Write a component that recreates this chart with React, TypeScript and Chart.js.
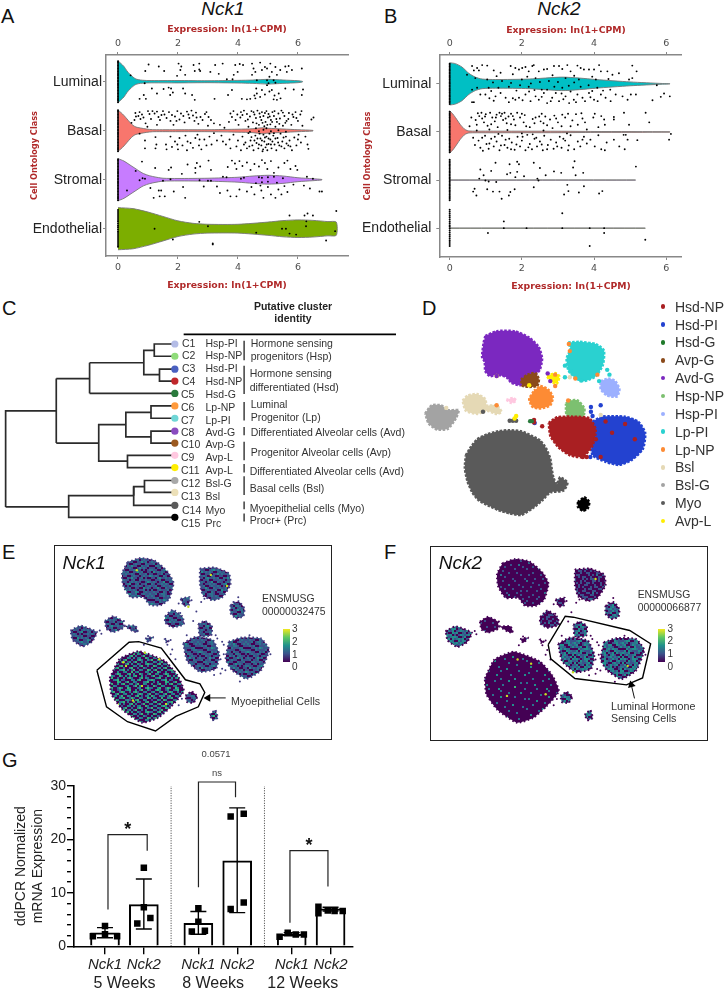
import React, { useEffect, useRef } from "react";
import { Chart, registerables } from "chart.js";

Chart.register(...registerables);

const SANS = '"Liberation Sans", Arial, sans-serif';
const DEJA = '"DejaVu Sans", sans-serif';
const RED = "#b02a2a";

// ---------- Panels A & B: violins ----------
const violinClasses = ["Luminal", "Basal", "Stromal", "Endothelial"];
const violinColors = ["#00BFC4", "#F8766D", "#C77CFF", "#7CAE00"];
const expressionTicks = [0, 2, 4, 6];

const nck1Luminal = [[0,.43],[.1,.37],[.2,.31],[.3,.22],[.4,.15],[.5,.095],[.6,.054],[.75,.034],[1,.024],[2,.024],[3,.02],[4,.027],[4.5,.034],[5,.048],[5.5,.034],[6,.02],[6.15,.007]];
const nck1Basal = [[0,.42],[.1,.37],[.2,.31],[.3,.24],[.4,.17],[.5,.11],[.6,.075],[.8,.05],[1,.03],[1.2,.02],[2,.02],[3,.02],[4,.03],[4.5,.04],[4.8,.06],[5,.05],[5.5,.035],[6,.02],[6.5,.007]];
const nck1Stromal = [[0,.43],[.2,.38],[.4,.3],[.6,.22],[.8,.14],[1,.09],[1.2,.06],[1.5,.03],[2,.025],[3,.03],[4,.05],[4.5,.075],[5,.09],[5.5,.075],[6,.04],[6.5,.02],[6.8,.005]];
const nck1Endothelial = [[0,.43],[.5,.41],[1,.34],[1.5,.25],[2,.16],[2.5,.11],[3,.09],[4,.09],[5,.135],[5.5,.165],[6,.18],[6.5,.17],[7,.145],[7.28,.135]];
const nck2Luminal = [[0,.44],[.16,.42],[.34,.35],[.53,.22],[.71,.14],[.9,.1],[1.27,.09],[2.2,.1],[3.1,.14],[3.6,.12],[4.05,.09],[5,.04],[5.9,.007],[6.1,.002]];
const nck2Basal = [[0,.44],[.08,.38],[.16,.3],[.25,.2],[.34,.11],[.44,.045],[.53,.02],[1,.017],[3,.015],[4,.01],[6.1,.004]];
const nck2Stromal = [[0,.002],[5.15,.002]];
const nck2Endothelial = [[0,.002],[5.42,.002]];

const zeroDense = [-.42,-.39,-.36,-.33,-.3,-.27,-.24,-.21,-.18,-.15,-.12,-.09,-.06,-.03,0,.03,.06,.09,.12,.15,.18,.21,.24,.27,.3,.33,.36,.39,.42];
const zeroSparse = [-.38,-.34,-.3,-.26,-.22,-.18,-.14,-.1,-.06,-.03,.01,.05,.09,.13,.17,.21,.25,.29,.33,.37];

const nck1LuminalDots = [[1.02,-.35],[.91,-.22],[1.36,-.31],[1.54,-.22],[2.02,-.37],[2.11,-.31],[2.08,-.24],[1.97,-.12],[2.52,-.34],[2.71,-.37],[2.71,-.25],[2.74,-.22],[2.56,-.22],[2.24,-.14],[3.08,-.2],[3.24,-.34],[3.49,-.37],[3.36,-.16],[3.63,-.05],[3.82,-.05],[3.91,-.34],[4.06,-.36],[4.17,-.34],[3.99,-.2],[3.86,-.14],[4.47,-.37],[4.52,-.27],[4.58,-.2],[4.47,-.14],[4.74,-.39],[4.8,-.24],[4.97,-.27],[5.08,-.37],[5.13,-.2],[5.3,-.14],[5.41,-.24],[5.58,-.31],[5.69,-.32],[5.63,-.2],[5.8,-.24],[6.13,-.27],[5.19,-.03],[4.97,-.03],[4.63,-.03],[.42,-.13],[.89,.03],[1.13,.14],[.86,.27],[.72,.35],[.93,.35],[1.3,.24],[1.52,.15],[1.69,.12],[1.77,.14],[1.83,.22],[1.74,.27],[2.17,.14],[2.24,.24],[2.47,.27],[2.56,.37],[3.22,.35],[3.67,.27],[3.8,.17],[4.13,.35],[4.3,.36],[4.41,.35],[4.58,.34],[4.63,.24],[4.61,.14],[4.8,.17],[4.74,.31],[4.97,.07],[5.13,.17],[5.19,.36],[5.3,.37],[5.36,.24],[5.58,.14],[5.86,.16],[6.13,.27],[6.17,.16],[5.02,.03],[5.25,.02],[4.9,-.3],[5.05,-.1],[5.25,-.3],[4.55,.28],[4.9,.26],[5.05,.2],[5.22,.28],[5.42,.34]];
const nck1BasalDots = [[.58,-.36],[.6,-.29],[.55,-.22],[.45,-.16],[.68,-.3],[.72,-.38],[.75,-.24],[.8,-.33],[.85,-.27],[.92,-.15],[1,-.4],[1.05,-.34],[1.1,-.24],[.98,-.08],[1.22,-.35],[1.3,-.39],[1.35,-.28],[1.4,-.22],[1.3,-.12],[1.5,-.4],[1.55,-.33],[1.62,-.26],[1.7,-.38],[1.75,-.2],[1.8,-.32],[1.85,-.12],[1.9,-.29],[1.98,-.4],[2.05,-.23],[2.1,-.35],[2.18,-.3],[2.22,-.17],[2.3,-.39],[2.38,-.26],[2.45,-.41],[2.5,-.31],[2.55,-.2],[2.6,-.37],[2.68,-.14],[2.75,-.28],[2.82,-.22],[2.9,-.34],[3,-.1],[3.1,-.22],[3.2,-.15],[3.4,-.12],[3.55,-.06],[3.7,-.18],[3.75,-.35],[3.8,-.28],[3.85,-.4],[3.92,-.22],[3.98,-.33],[4.02,-.12],[4.08,-.27],[4.1,-.38],[4.2,-.41],[4.25,-.2],[4.3,-.34],[4.35,-.08],[4.4,-.29],[4.45,-.4],[4.5,-.17],[4.55,-.33],[4.6,-.26],[4.65,-.41],[4.7,-.12],[4.72,-.35],[4.78,-.22],[4.8,-.38],[4.85,-.3],[4.88,-.09],[4.92,-.18],[4.95,-.4],[5,-.27],[5.02,-.34],[5.08,-.13],[5.1,-.22],[5.15,-.38],[5.2,-.3],[5.25,-.08],[5.3,-.18],[5.35,-.35],[5.4,-.25],[5.45,-.41],[5.5,-.1],[5.55,-.3],[5.62,-.2],[5.7,-.36],[5.78,-.12],[5.85,-.28],[5.92,-.38],[6,-.2],[6.08,-.33],[6.12,-.4],[6.15,-.1],[6.45,-.23],[6.52,-.27],[.72,.06],[.9,.2],[.9,.36],[1.25,.13],[1.28,.28],[1.25,.36],[1.6,.28],[1.62,.38],[1.75,.12],[1.8,.33],[1.9,.22],[2,.38],[2.05,.15],[2.15,.3],[2.25,.1],[2.3,.4],[2.42,.25],[2.5,.35],[2.58,.15],[2.65,.08],[2.7,.3],[2.78,.38],[2.88,.18],[2.95,.3],[3.05,.12],[3.2,.05],[3.3,.2],[3.45,.1],[3.6,.28],[3.72,.18],[3.75,.36],[3.85,.08],[3.95,.32],[4,.2],[4.1,.4],[4.15,.12],[4.2,.28],[4.3,.36],[4.35,.05],[4.42,.2],[4.48,.3],[4.52,.4],[4.58,.1],[4.62,.25],[4.68,.36],[4.72,.06],[4.75,.16],[4.78,.3],[4.82,.42],[4.85,.08],[4.88,.22],[4.92,.34],[4.95,.12],[4.98,.4],[5.02,.27],[5.05,.06],[5.08,.18],[5.12,.36],[5.18,.1],[5.22,.28],[5.28,.4],[5.32,.15],[5.38,.3],[5.42,.06],[5.48,.22],[5.55,.36],[5.6,.12],[5.68,.3],[5.72,.2],[5.8,.4],[5.88,.14],[5.95,.3],[6.02,.08],[6.1,.24],[6.25,.12],[6.32,.28],[6.35,.37],[4.7,.01],[4.85,-.02],[5.1,.01],[5.35,-.01],[4.4,.02],[5.6,.02],[4.6,-.05],[4.95,-.05],[5.2,.05],[1.15,-.4],[1.45,-.32],[1.95,-.2],[2.35,-.33],[2.62,-.27],[2.95,-.38],[3.02,-.28],[4.15,-.32],[4.33,-.23],[4.52,-.38],[4.62,-.15],[4.74,-.28],[4.82,-.16],[4.9,-.36],[4.98,-.12],[5.06,-.29],[5.14,-.18],[5.22,-.4],[5.28,-.24],[5.38,-.14],[5.5,-.37],[5.58,-.16],[5.68,-.24],[5.82,-.33],[5.95,-.26],[4.25,.24],[4.38,.32],[4.45,.13],[4.55,.2],[4.65,.16],[4.7,.28],[4.8,.2],[4.84,.38],[4.9,.14],[4.96,.28],[5.02,.16],[5.1,.28],[5.15,.22],[5.25,.16],[5.34,.24],[5.45,.32],[5.52,.14],[5.62,.26],[5.75,.32],[6,.18],[1.98,.28],[2.32,.22],[2.72,.18],[3.12,.28],[3.5,.22]];
const nck1StromalDots = [[.8,-.37],[.59,-.18],[1.24,-.24],[1.69,-.2],[1.77,-.25],[2.13,-.12],[2.32,-.31],[2.63,-.34],[2.58,-.24],[2.74,-.27],[3.02,-.39],[2.58,-.14],[3.1,-.2],[3.66,-.26],[3.8,-.39],[3.9,-.33],[3.95,-.22],[4.05,-.38],[4.15,-.28],[4.3,-.35],[4.42,-.2],[4.55,-.32],[4.7,-.27],[4.8,-.4],[4.9,-.34],[4.98,-.22],[5.1,-.38],[5.2,-.14],[5.35,-.25],[5.55,-.34],[5.65,-.39],[5.75,-.22],[5.92,-.28],[5.98,-.2],[3.5,-.06],[3.62,-.05],[4.2,-.04],[4.1,-.02],[4.7,-.05],[4.8,-.04],[5,-.05],[5.2,-.06],[5.5,-.03],[6.3,-.06],[6.5,-.02],[.72,.01],[.82,-.03],[.3,.22],[.9,-.02],[1.5,.02],[1.75,-.01],[2.72,.01],[3,.02],[3.1,.02],[1.08,.17],[1.19,.37],[1.36,.22],[1.44,.22],[1.39,.34],[1.56,.34],[1.86,.24],[2.17,.15],[2.24,.37],[2.86,.14],[3.3,.14],[3.4,.27],[3.75,.34],[3.65,.22],[3.95,.34],[4.05,.2],[4.3,.24],[4.45,.15],[4.55,.3],[4.75,.12],[4.78,.22],[4.85,.37],[5,.15],[5.1,.3],[5.25,.37],[5.35,.2],[5.45,.3],[5.55,.13],[5.65,.25],[5.85,.1],[6.2,.12],[6.4,.18],[6.72,.24],[6.8,.24],[4.8,.05],[5,.04],[5.3,.06],[4.6,.07]];
const nck1EndoDots = [[1.22,0],[1.83,.22],[2.71,-.14],[3,-.05],[3.16,.3],[3.16,.32],[4.61,.08],[5.72,-.27],[5.47,0],[5.6,0],[5.72,.1],[5.94,.12],[6.22,-.27],[6.32,-.31],[6.5,-.27],[6.28,-.15],[6.27,-.05],[7.28,-.36],[7.24,.05],[6.94,.24]];
const nck2LuminalDots = [[.62,-.37],[.76,-.33],[.9,-.39],[1.04,-.38],[.67,-.28],[.81,-.28],[.48,-.19],[.71,-.12],[1.22,-.28],[1.41,-.23],[1.69,-.37],[1.82,-.33],[1.92,-.3],[2.01,-.33],[2.1,-.35],[2.29,-.37],[2.33,-.39],[2.19,-.26],[2.47,-.26],[2.61,-.3],[2.7,-.31],[2.89,-.37],[3.03,-.37],[3.12,-.31],[3.26,-.39],[3.35,-.26],[3.54,-.38],[3.63,-.33],[3.72,-.3],[3.86,-.3],[4,-.3],[4.14,-.39],[4.19,-.26],[4.37,-.26],[4.51,-.19],[4.69,-.22],[5.06,-.38],[5.18,-.26],[5.06,-.12],[4.97,-.09],[1.04,-.09],[1.45,-.06],[2,-.09],[2.38,-.12],[2.75,-.06],[3.21,-.12],[3.58,-.09],[4.05,-.09],[.76,.08],[.62,.12],[1.08,.08],[1.64,.06],[2.19,.06],[2.7,.12],[3.12,.08],[3.63,.06],[4.09,.08],[.62,.38],[.67,.38],[1.22,.35],[1.27,.26],[.99,.22],[1.41,.19],[1.55,.29],[1.64,.38],[1.82,.33],[1.92,.29],[2.1,.22],[2.24,.36],[2.38,.26],[2.47,.33],[2.61,.19],[2.7,.4],[2.84,.29],[2.94,.19],[3.03,.36],[3.21,.26],[3.31,.4],[3.44,.33],[3.54,.22],[3.68,.29],[3.86,.19],[4,.33],[4.19,.22],[4.32,.29],[4.46,.36],[4.6,.22],[4.79,.26],[4.93,.33],[5.02,.22],[5.16,.22],[5.62,.34],[5.85,.27],[5.94,.2],[6.1,.26],[5.74,.03],[1.3,-.16],[1.75,-.2],[2.15,-.15],[2.85,-.18],[3.45,-.17],[3.95,-.15],[4.4,-.1],[1.15,.15],[1.85,.14],[2.35,.13],[3.35,.16],[3.95,.15],[4.45,.12],[2.55,.27],[3.15,.32],[3.75,.36],[2.55,.12],[2.9,.06],[3.3,.04],[1.35,.08],[1.95,.03],[2.5,-.04],[3,-.04],[3.45,-.03],[3.85,.03],[1.2,-.03],[1.7,-.02],[2.25,-.01],[.85,.22],[1.1,.3],[1.75,.3],[2.02,.34],[2.2,.16],[2.8,.36],[3.1,.2],[3.5,.38],[3.9,.28],[4.1,.36],[4.25,.14]];
const nck2BasalDots = [[.55,-.12],[.6,-.3],[.72,-.25],[.78,-.39],[.82,-.33],[.88,-.4],[.9,-.28],[.95,-.2],[1,-.37],[1.05,-.13],[1.12,-.4],[1.18,-.3],[1.25,-.22],[1.3,-.36],[1.33,-.1],[1.38,-.4],[1.42,-.33],[1.48,-.25],[1.52,-.4],[1.58,-.18],[1.63,-.32],[1.7,-.38],[1.78,-.26],[1.82,-.14],[1.87,-.4],[1.95,-.3],[2.05,-.2],[2.08,-.35],[2.22,-.1],[2.3,-.27],[2.35,-.18],[2.38,-.3],[2.52,-.22],[2.55,-.38],[2.65,-.32],[2.7,-.14],[2.78,-.26],[2.85,-.08],[2.9,-.34],[3,-.2],[3.1,-.12],[3.2,-.3],[3.28,-.38],[3.4,-.24],[3.5,-.37],[3.55,-.15],[3.65,-.39],[3.68,-.28],[3.75,-.2],[3.98,-.3],[4.02,-.38],[4.12,-.1],[4.2,-.33],[4.28,-.26],[4.3,-.15],[4.55,-.31],[4.55,-.26],[4.83,-.4],[4.97,-.15],[5.43,-.4],[5.53,-.2],[.65,.12],[.7,.27],[.8,.18],[.85,.33],[.92,.39],[.98,.08],[1.02,.25],[1.08,.35],[1.15,.14],[1.22,.3],[1.3,.2],[1.38,.38],[1.45,.08],[1.52,.27],[1.6,.33],[1.65,.14],[1.72,.22],[1.8,.37],[1.88,.1],[1.95,.3],[2,.18],[2.1,.38],[2.15,.06],[2.22,.25],[2.28,.36],[2.35,.14],[2.42,.3],[2.5,.2],[2.58,.38],[2.62,.08],[2.72,.27],[2.8,.16],[2.88,.35],[2.95,.22],[3.05,.1],[3.1,.33],[3.2,.18],[3.3,.28],[3.35,.07],[3.45,.36],[3.55,.2],[3.62,.3],[3.72,.1],[3.8,.24],[3.9,.16],[4.02,.3],[4.12,.07],[4.2,.36],[4.3,.38],[4.35,.22],[4.55,.16],[4.7,.3],[4.82,.06],[4.88,.06],[4.93,.16],[4.85,.36],[5.2,.17],[6.08,.16],[6.13,.04],[1.1,-.05],[1.6,-.04],[2,.03],[2.6,-.03],[3.25,.03],[3.8,-.05],[1.35,.04],[.75,-.03],[2.3,.05],[.75,-.15],[.98,-.32],[1.15,-.16],[1.28,-.3],[1.45,-.38],[1.55,-.28],[1.7,-.16],[1.75,-.33],[2,-.38],[2.12,-.12],[2.48,-.32],[2.6,-.18],[2.95,-.28],[3.12,-.36],[3.35,-.12],[.9,.12],[1.1,.24],[1.25,.1],[1.42,.28],[1.55,.16],[1.7,.36],[1.85,.26],[2.02,.1],[2.18,.32],[2.4,.12],[2.55,.26],[2.7,.36],[2.98,.3],[3.15,.14],[3.28,.38],[3.68,.16]];
const nck2StromalDots = [[1.27,-.36],[.85,-.22],[.94,-.1],[1.15,-.19],[.82,-.03],[.99,.01],[1.08,.03],[1.29,.04],[.69,.18],[.65,.24],[.74,.32],[1.04,.19],[1.2,.24],[1.38,.24],[1.44,.39],[1.8,.19],[1.68,.25],[1.64,.32],[1.66,-.33],[1.87,-.38],[1.92,-.33],[2.33,-.36],[2.5,-.25],[1.59,-.12],[1.68,-.15],[1.87,-.17],[1.82,-.06],[2.06,-.08],[2.43,-.03],[2.46,.01],[2.33,.15],[2.66,-.1],[2.89,-.18],[3.09,-.15],[3.46,-.39],[3.42,-.26],[3.49,-.1],[3.7,-.15],[3.26,.1],[3.17,.3],[3.29,.23],[3.58,.26],[3.72,.13],[4.14,.28],[4.23,.23],[5.16,-.28]];
const nck2EndoDots = [[3.12,-.31],[1.5,-.14],[1.06,.1],[1.5,0],[2.13,0],[3.12,0],[3.88,0],[4.28,0],[4.28,.1],[5.42,.24],[3.88,.37]];

// ---------- Panel C: dendrogram ----------
const dendroBranches = [
  [[160,262],[160,462]],[[5,660],[5,362],[160,362]],
  [[262,308],[262,213]],[[160,262],[262,262]],[[262,213],[428,213]],[[262,308],[515,308]],
  [[476,250],[428,250],[428,175],[460,175]],[[515,155],[460,155],[460,193],[515,193]],
  [[515,233],[476,233],[476,270],[515,270]],
  [[160,462],[290,462]],[[373,405],[290,405],[290,518],[378,518]],
  [[450,367],[373,367],[373,443],[450,443]],[[515,347],[450,347],[450,385],[515,385]],
  [[515,425],[450,425],[450,462],[515,462]],[[515,500],[378,500],[378,538],[515,538]],
  [[5,660],[198,660]],[[397,625],[198,625],[198,692],[515,692]],
  [[430,597],[397,597],[397,655],[515,655]],[[397,625],[397,597]],[[515,578],[430,578],[430,615],[515,615]],
];
const clusterIds = ["C1","C2","C3","C4","C5","C6","C7","C8","C10","C9","C11","C12","C13","C14","C15"];
const clusterNames = ["Hsp-PI","Hsp-NP","Hsd-PI","Hsd-NP","Hsd-G","Lp-NP","Lp-PI","Avd-G","Avp-G","Avp-L","Avp-L","Bsl-G","Bsl","Myo","Prc"];
const clusterColors = ["#b4bce6","#8fdc7a","#4a60c0","#c0282c","#2a7a3c","#ff9a3c","#6fd6d6","#8a4cc0","#9c5a20","#ffc8e0","#ffee00","#a8a8a8","#ece0b8","#5a5a5a","#000000"];
const tipRows = [155,193,233,270,308,347,385,425,462,500,538,578,615,655,692];
const labelRows = [160,195,235,273,313,352,390,427,463,502,541,578,618,661,700];
const identityBars = [[145,205],[222,310],[335,392],[412,438],[458,515],[527,553],[565,623],[643,667],[680,705]];
const identityText = [[752,160,"Hormone sensing"],[752,198,"progenitors (Hsp)"],[749,250,"Hormone sensing"],[749,290,"differentiated (Hsd)"],[752,341,"Luminal"],[752,380,"Progenitor (Lp)"],[752,427,"Differentiated Alveolar cells (Avd)"],[752,485,"Progenitor Alveolar cells (Avp)"],[749,543,"Differentiated Alveolar cells (Avd)"],[749,595,"Basal cells (Bsl)"],[749,653,"Myoepithelial cells (Myo)"],[749,691,"Procr+ (Prc)"]];

// ---------- Panel D: embedding ----------
const tsneClusters = [
  { c: "#5a5a5a", o: [[190,500],[205,475],[225,450],[255,435],[290,425],[325,422],[360,425],[395,440],[420,455],[438,480],[450,510],[455,545],[460,570],[470,590],[480,568],[503,585],[490,610],[450,615],[425,640],[395,665],[360,685],[325,680],[290,670],[258,655],[230,640],[210,615],[195,580],[187,540]] },
  { c: "#a3a3a3", o: [[65,370],[85,345],[115,345],[135,360],[168,360],[160,385],[135,418],[100,420],[75,400]] },
  { c: "#e5d9b5", o: [[180,330],[195,315],[225,310],[250,325],[255,345],[285,345],[300,365],[285,372],[255,362],[225,372],[190,362]] },
  { c: "#7b28c0", o: [[250,130],[285,115],[340,115],[385,135],[415,165],[425,200],[418,235],[400,255],[385,275],[355,283],[330,275],[315,258],[285,250],[265,255],[250,240],[248,210],[240,195],[245,150]] },
  { c: "#8b4a1a", o: [[360,265],[380,250],[405,245],[415,265],[410,285],[385,288],[365,285]] },
  { c: "#2ad1d0", o: [[505,150],[540,148],[590,155],[615,175],[612,220],[590,255],[555,270],[525,260],[505,235],[500,200],[512,170]] },
  { c: "#9cb0ff", o: [[605,270],[630,262],[650,270],[663,295],[655,318],[625,315],[605,295]] },
  { c: "#fd8b34", o: [[400,300],[420,285],[445,297],[458,320],[450,345],[420,355],[395,350],[385,325]] },
  { c: "#7cc070", o: [[498,340],[510,330],[535,330],[555,355],[550,385],[525,385],[500,375]] },
  { c: "#2342d0", o: [[580,395],[610,380],[680,380],[720,395],[742,430],[735,480],[700,515],[660,530],[620,520],[580,500],[575,450]] },
  { c: "#a91f22", o: [[445,400],[470,382],[520,380],[570,385],[590,420],[580,470],[550,505],[510,500],[475,475],[450,440]] },
  { c: "#000000", o: [[535,645],[555,630],[570,645],[565,665],[550,672],[535,660]] },
  { c: "#ffee00", o: [[440,255],[465,245],[478,255],[470,278],[450,270]] },
  { c: "#ffc8e0", o: [[315,328],[335,322],[345,330],[330,338]] },
];
const tsneSpecks = [
  ["#fd8b34",[[507,155],[510,177],[595,250],[527,262],[505,330],[285,345],[465,250],[465,285]]],
  ["#2ad1d0",[[495,222],[495,258],[512,240],[545,268],[625,235],[632,250],[600,270]]],
  ["#7b28c0",[[442,246],[450,270],[285,254]]],
  ["#ffee00",[[285,254],[345,378],[340,386],[385,283]]],
  ["#5a5a5a",[[325,393],[335,393],[345,393],[243,365],[490,595]]],
  ["#2a7a3c",[[388,394],[393,394]]],
  ["#a91f22",[[400,390],[400,398],[425,410],[550,505],[562,505],[605,505],[640,430],[710,450],[620,395],[680,403],[590,450]]],
  ["#2342d0",[[402,400],[575,350],[575,365],[580,378],[573,505],[590,490],[605,345]]],
  ["#e5d9b5",[[130,353],[290,365],[510,258],[605,375]]],
];
const tsneLegendNames = ["Hsd-NP","Hsd-PI","Hsd-G","Avp-G","Avd-G","Hsp-NP","Hsp-PI","Lp-PI","Lp-NP","Bsl","Bsl-G","Myo","Avp-L"];
const tsneLegendColors = ["#a91f22","#2342d0","#1f7a2a","#8b4a1a","#7b28c0","#7cc070","#9cb0ff","#2ad1d0","#fd8b34","#e5d9b5","#a3a3a3","#5a5a5a","#ffee00"];

// ---------- Panels E & F: expression embeddings ----------
const embedClusters = [
  { id:"avd", o:[[211,40],[251,27],[296,35],[336,70],[354,105],[341,155],[316,175],[281,175],[261,150],[221,150],[198,115],[194,75]] },
  { id:"lp", o:[[436,60],[481,57],[526,75],[531,110],[506,150],[476,160],[446,145],[436,110]] },
  { id:"hsp", o:[[531,175],[556,163],[574,185],[571,210],[548,217],[531,200]] },
  { id:"t1", o:[[376,155],[404,150],[401,175],[386,177]] },
  { id:"lpnp", o:[[328,210],[351,190],[381,210],[386,235],[351,245],[328,230]] },
  { id:"bsl", o:[[141,225],[166,210],[196,225],[198,247],[166,260],[146,250]] },
  { id:"bslg", o:[[34,255],[66,240],[116,260],[101,290],[71,305],[41,285]] },
  { id:"t2", o:[[201,240],[236,240],[243,260],[228,257]] },
  { id:"t3", o:[[266,280],[291,275],[276,292]] },
  { id:"t4", o:[[326,280],[341,290],[331,292]] },
  { id:"hspnp", o:[[431,235],[451,225],[473,240],[471,270],[436,273]] },
  { id:"hsdnp", o:[[384,295],[421,275],[476,285],[496,330],[486,375],[436,385],[396,350]] },
  { id:"hsdpi", o:[[526,290],[566,277],[626,280],[651,315],[626,380],[581,407],[536,380],[516,345]] },
  { id:"myo", o:[[156,405],[186,345],[246,320],[326,350],[366,395],[386,445],[346,495],[306,530],[256,545],[196,505],[161,455]] },
  { id:"myo2", o:[[391,460],[411,447],[428,463],[416,482],[396,480]] },
  { id:"prc", o:[[466,520],[484,505],[491,530],[476,537]] },
];
const lassoE = [[116,380],[216,292],[246,290],[316,310],[346,350],[391,410],[436,423],[451,450],[431,495],[361,525],[298,571],[211,542],[146,495],[116,380]];
const lassoF = [[353,298],[406,208],[431,211],[606,253],[671,295],[646,403],[596,425],[436,405],[361,343],[353,298]];
const arrowE = [[516,467],[461,467]];
const arrowF = [[621,468],[611,425]];
const embedStray = [[200,225],[230,250],[240,255],[262,300],[275,272],[345,285],[425,195],[440,165],[450,155],[555,150],[540,165],[375,200],[415,225],[395,270],[485,270],[505,290],[510,330],[500,345],[505,375],[500,390],[515,380],[510,300],[490,280],[125,255],[130,265],[370,170],[410,160],[360,345],[345,330],[590,270],[640,330],[655,330],[480,395],[560,415],[370,490],[380,470],[335,300],[350,315]];
const embedSpark = { E:[[198,355],[265,325],[310,345],[228,475],[400,180],[520,115],[240,65],[470,80]], F:[[258,345],[345,455],[430,385],[600,365],[500,90],[225,460],[300,358]] };

const tileBlue = ["112012210011231120012112","210011212100112213100121","121200111221001112210011","001121321110210021112200","110021111200121111001221","321100212011132102110112","012112100211201110221001","100211012113100212012110","211013120011212001131201","120112001221100121100211","002211210110213110021120","110120112001121001312101","211001231210011221101012","031212100121200113120011","100112011312112100211201","212100210011001211012113","110231121200213110120100","001120011121101200211211","121011300211012121100132","210112121001230012011200","112001211210101121210112","011310021121120011003121","200121112003121210112010","121100210112001132001211"];
const tileMyoE = ["003420013002340030240031","230034002430020341002300","003100240023003002430024","420032301400320034010230","032004003240014200320043","100320430002310034003200","034002002340200403200340","300240053020034020014002","023003420100320302300420","400320043024002003420031","032014000340130240020300","200340230002403003100342","043002003405000320240020","300230340020034002003100","024003002340201400320043","300420030023004023000320","003200143000340300420024","240032004203020340030100","002340020030342000240320","430002340210003203400023","020300043002400320002340","300240030340023014003200","042003200002300240350020","200340024300430002300342"];
const tileLow = ["000100000010000200000100","010000100000010000100000","000001000200000001000010","100000000001000100000000","000100010000000000010001","000000000100200000000000","001000100000000100100000","000000000010000000000100","020001000000100000000000","000000000100000010002000","000100000000010000000010","100000200000000000100000","000000001000100000000000","000100000000000100010000","010000010002000000000100","000000000000010000000000","000010001000000001000001","200000000000100000100000","000100000100000000000000","000000100000000200001000","001000000001000000000010","000000010000010001000000","100001000000000000000100","000000000200001000010000"];
const tileLow2 = ["010110001100010210010100","100011100010011001101001","001001012100100110010110","110100001011010100000101","000110110000210011010001","101000010120001000110010","011001100100011100100100","100100011012000100011001","020011000110100101000011","101000110100010010102000","000101001001110001010010","110010200011000110100101","001101001010010000110010","100100110001100101000100","011000010102001010010101","001011001000110101001000","100010101100100011000011","200101000110100100101000","010100110100010010010101","001001100010010200101010","101010001011001001000110","010001011000110010110000","110011000110001100100101","001000110201001010010010"];
const tileMid = ["312012230013231320012312","230013212300312213300321","121300311231003312210013","003123321130230023132200","130321113200123131003221","321300212013132302130312","013112300231201310231003","300213012313300212312130","231013320013212301131203","120312301221300321300231","302211230130213310023120","130120312003121301312301","213003231230013221301012","031232300123200313320013","300132013312132300231203","212300230013003213012313","130231321200213110320300","003120013123301200213231","123013300213012321300132","230112321003230012013200","312003213230101321230132","013310023123320013003123","200123112303123230132010","123300230132003132003211"];
const tileMyoF = ["000000000002000000000000","002000000000000200000300","000000020000000000000000","000000000003000000200000","020000000000000000000002","000003000000002000000000","000000000200000000000000","000200000000000003000000","000000000000020000000020","200000003000000000000000","000000200000000200000000","000000000000000000020000","003000000020000000000000","000000000000003000000000","000002000002000000002000","020000000000000000000000","000000000300000020000003","000000000000000000000000","000200000002000000300000","000000002000000300000000","200000000000000000000200","000030000000200000000000","000000000000000000400000","000002000030000000000002"];

const fillE = { myo:"myoE", prc:"myoE" };
const fillF = { hsdnp:"mid", hsdpi:"mid", hspnp:"mid", hsp:"mid", bslg:"mid", lp:"low2", lpnp:"low2", t1:"low2", myo:"myoF", myo2:"mid", prc:"mid" };

// ---------- Panel G: ddPCR ----------
const weeks = ["5 Weeks","8 Weeks","12 Weeks"];
const genes = ["Nck1","Nck2"];
const barValues = [2.5,7.8,4.3,16,2.25,7];
const errLow = [1.6,3.25,2.25,6.3,1.95,6.6];
const errHigh = [3.5,12.6,6.5,25.9,2.55,7.3];
const replicateValues = [[1.9,3.8,2.25,1.9],[14.7,7.3,4.25,5.3],[7.1,4.6,2.75,2.9],[24.3,24.8,7,8.2],[1.8,2.55,2.2,2.2],[7.4,6.2,6.7,6.6,6.6]];
const replicateSpread = [[-.13,0,0,.13],[0,0,-.07,.07],[0,0,-.07,.07],[-.07,.07,-.07,.07],[-.13,-.043,.043,.13],[-.13,-.13,-.03,.043,.13]];
const sigBrackets = [[[-.176,6.9],[-.176,20.9],[.244,20.9],[.244,17.9]],[[.793,11.06],[.793,30.75],[1.19,30.75],[1.19,27.9]],[[1.773,4.4],[1.773,17.9],[2.18,17.9],[2.18,11.2]]];
const separators = [.5,1.5];
const barCenters = [-.208,.208,.792,1.208,1.792,2.208];
const weekTickAt = [0,.95,1.91];
const ddpcrTicks = [0,2,4,6,8,10,12,14,16,18,20,22,24,26,28,30];

// ---------- helpers ----------
const close = (o: number[][]) => [...o, o[0]].map(([x, y]) => ({ x, y }));
const xy = (p: number[][]) => p.map(([x, y]) => ({ x, y }));
const baseOptions = (extra: any) => ({
  responsive: false, animation: false, events: [],
  plugins: { legend: { display: false }, tooltip: { enabled: false } },
  ...extra,
});
const hiddenScales = (w: number, h: number) => ({
  x: { type: "linear", display: false, min: 0, max: w },
  y: { type: "linear", display: false, min: 0, max: h, reverse: true },
});

const violinRow = (profile: number[][], row: number, color: string) => ({
  type: "scatter", showLine: true, pointRadius: 0, fill: "shape", tension: 0.25,
  backgroundColor: color, borderColor: "#777", borderWidth: 0.9,
  data: [...profile.map(([x, h]) => ({ x, y: row - h })), ...[...profile].reverse().map(([x, h]) => ({ x, y: row + h }))],
});

function violinConfig(p: any) {
  const dots = p.dots.flatMap((d: number[][], row: number) => d.map(([x, j]) => ({ x, y: row + j })));
  const zero = p.zeros.flatMap((z: number[], row: number) => z.map((j) => ({ x: 0, y: row + j })));
  const xAxis = (position: string, titled: boolean, h: number, titlePad: any) => ({
    type: "linear", position, min: p.xMin, max: p.xMax,
    afterBuildTicks: (s: any) => { s.ticks = expressionTicks.map((value) => ({ value })); },
    afterFit: (s: any) => { s.height = h; },
    grid: { drawOnChartArea: false, tickLength: 3, color: "#888" },
    border: { color: "#888", width: 1.5 },
    ticks: { color: "#4d4d4d", padding: 3, maxRotation: 0, autoSkip: false, font: { family: DEJA, size: 9.5 }, callback: (v: number) => String(v) },
    title: { display: titled, text: "Expression: ln(1+CPM)", color: RED, padding: titlePad, font: { family: DEJA, size: 9.3, weight: "bold" } },
  });
  return {
    type: "scatter",
    data: {
      datasets: [
        { data: dots, pointRadius: 0.95, pointBackgroundColor: "#000", pointBorderWidth: 0 },
        { data: zero, pointRadius: 1, pointBackgroundColor: "#000", pointBorderWidth: 0 },
        ...p.profiles.map((pr: number[][], i: number) => violinRow(pr, i, violinColors[i])),
      ],
    },
    options: baseOptions({
      layout: { padding: { right: p.right, left: 0, top: 0, bottom: 0 } },
      scales: {
        x: xAxis("bottom", p.xTitles, p.bottomH, { bottom: 4 }),
        xTop: xAxis("top", p.xTitles, p.topH, { top: 9 }),
        y: {
          type: "linear", position: "left", reverse: true, min: p.yMin, max: p.yMax,
          afterBuildTicks: (s: any) => { s.ticks = [0, 1, 2, 3].map((value) => ({ value })); },
          afterFit: (s: any) => { s.width = p.leftW; },
          grid: { drawOnChartArea: false, tickLength: 3, color: "#888" },
          border: { color: "#888", width: 1.5 },
          ticks: { color: "#222", padding: p.labelPad, autoSkip: false, font: { family: SANS, size: 14 }, callback: (v: number) => violinClasses[v] },
          title: { display: true, text: "Cell Ontology Class", color: RED, padding: { top: p.yTitlePad, bottom: 0 }, font: { family: DEJA, size: 8.2, weight: "bold" } },
        },
      },
    }),
  };
}

const dendroConfig = () => ({
  type: "scatter",
  data: {
    datasets: [
      { data: tipRows.map((y) => ({ x: 523, y })), pointRadius: 3.6, pointBorderWidth: 0, pointBackgroundColor: clusterColors },
      ...dendroBranches.map((b) => ({ data: xy(b), showLine: true, pointRadius: 0, borderColor: "#2b2b2b", borderWidth: 1.7 })),
      ...identityBars.map((b) => ({ data: [{ x: 735, y: b[0] }, { x: 735, y: b[1] }], showLine: true, pointRadius: 0, borderColor: "#222", borderWidth: 1.3 })),
      { data: [{ x: 550, y: 125 }, { x: 1200, y: 125 }], showLine: true, pointRadius: 0, borderColor: "#000", borderWidth: 1.6 },
    ],
  },
  options: baseOptions({ layout: { padding: 0 }, scales: hiddenScales(1200, 750) }),
});

const tsneConfig = () => ({
  type: "scatter",
  data: {
    datasets: [
      ...tsneSpecks.map(([c, p]: any) => ({ data: xy(p), pointRadius: 2.2, pointBorderWidth: 0, pointBackgroundColor: c })),
      ...[...tsneClusters].reverse().map((k) => ({
        data: close(k.o), showLine: true, pointRadius: 0, fill: "shape", tension: 0.2,
        backgroundColor: k.c, borderColor: k.c, borderWidth: 2.4, borderDash: [2.5, 1.5],
      })),
    ],
  },
  options: baseOptions({ layout: { padding: 0 }, scales: hiddenScales(972, 750) }),
});

const CELL_COLORS = ["#440154", "#3b528b", "#2c728e", "#21908c", "#35b779", "#c8e020"];
function makePattern(rows: string[]) {
  const size = 2;
  const c = document.createElement("canvas");
  c.width = rows[0].length * size; c.height = rows.length * size;
  const ctx = c.getContext("2d")!;
  rows.forEach((r, j) => [...r].forEach((ch, i) => {
    ctx.fillStyle = CELL_COLORS[Number(ch)];
    ctx.fillRect(i * size, j * size, size, size);
  }));
  return ctx.createPattern(c, "repeat");
}

function embedConfig(panel: "E" | "F") {
  const patterns: any = {
    blue: makePattern(tileBlue), myoE: makePattern(tileMyoE), low: makePattern(tileLow),
    mid: makePattern(tileMid), myoF: makePattern(tileMyoF), low2: makePattern(tileLow2),
  };
  const fills: any = panel === "E" ? fillE : fillF;
  const dflt = panel === "E" ? "blue" : "low";
  const edge = panel === "E" ? "#3f3a80" : "#440154";
  const lasso = panel === "E" ? lassoE : lassoF;
  const arrow = panel === "E" ? arrowE : arrowF;
  return {
    type: "scatter",
    data: {
      datasets: [
        { data: xy(arrow), showLine: true, borderColor: "#111", borderWidth: 1,
          pointStyle: "triangle", pointRadius: [0, 4.5], pointBackgroundColor: "#000", pointBorderWidth: 0,
          pointRotation: panel === "E" ? -90 : -14 },
        { data: xy(lasso), showLine: true, pointRadius: 0, borderColor: "#000", borderWidth: 1.4 },
        { data: xy(embedSpark[panel]), pointRadius: 1.2, pointBorderWidth: 0, pointBackgroundColor: "#c8e020" },
        { data: xy(embedStray), pointRadius: 1, pointBorderWidth: 0, pointBackgroundColor: edge },
        ...embedClusters.map((k) => ({
          data: close(k.o), showLine: true, pointRadius: 0, fill: "shape", tension: 0.15,
          backgroundColor: patterns[fills[k.id] || dflt],
          borderColor: k.id.startsWith("myo") ? "#440154" : edge, borderWidth: 2, borderDash: [1.6, 2.4],
        })),
      ],
    },
    options: baseOptions({ layout: { padding: 0 }, scales: hiddenScales(829, 579) }),
  };
}

function ddpcrConfig() {
  const markers = replicateValues.flatMap((vals, i) => vals.map((y, j) => ({ x: barCenters[i] + replicateSpread[i][j], y })));
  const axisLine = { color: "#000", width: 1.6 };
  const xMin = -.54, xMax = 2.444;
  return {
    type: "scatter",
    data: {
      datasets: [
        { data: markers, pointStyle: "rect", pointRadius: 4.6, pointBorderWidth: 0, pointBackgroundColor: "#000" },
        ...barCenters.map((x, i) => ({
          data: [{ x, y: errLow[i] }, { x, y: errHigh[i] }], showLine: true, borderColor: "#000", borderWidth: 1.4,
          pointStyle: "line", pointRadius: 8, pointBorderWidth: 1.4, pointBorderColor: "#000",
        })),
        ...sigBrackets.map((b) => ({ data: xy(b), showLine: true, pointRadius: 0, borderColor: "#222", borderWidth: 1.2, clip: false })),
        ...separators.map((x) => ({ data: [{ x, y: 0 }, { x, y: 30 }], showLine: true, pointRadius: 0, borderColor: "#222", borderWidth: 0.9, borderDash: [1, 1.5] })),
        { type: "bar", data: barCenters.map((x, i) => ({ x, y: barValues[i] })), backgroundColor: "#fff", borderColor: "#000", borderWidth: 2, barThickness: 29 },
      ],
    },
    options: baseOptions({
      layout: { padding: { top: 46, right: 9, left: 0, bottom: 0 } },
      scales: {
        x: {
          type: "linear", position: "bottom", weight: 1, min: xMin, max: xMax, offset: false,
          afterBuildTicks: (s: any) => { s.ticks = barCenters.map((value) => ({ value })); },
          afterFit: (s: any) => { s.height = 26; },
          grid: { offset: false, drawOnChartArea: false, tickLength: 8, color: "#000", lineWidth: 1.4 }, border: axisLine,
          ticks: { color: "#222", padding: 2, autoSkip: false, maxRotation: 0, font: { family: SANS, size: 15, style: "italic" }, callback: (_: any, i: number) => genes[i % 2] },
        },
        xWeeks: {
          type: "linear", position: "bottom", weight: 2, min: xMin, max: xMax, offset: false,
          afterBuildTicks: (s: any) => { s.ticks = weekTickAt.map((value) => ({ value })); },
          afterFit: (s: any) => { s.height = 19.7; },
          grid: { display: false, drawTicks: false }, border: { display: false },
          ticks: { color: "#222", padding: 2, autoSkip: false, maxRotation: 0, font: { family: SANS, size: 16 }, callback: (_: any, i: number) => weeks[i] },
        },
        y: {
          type: "linear", position: "left", min: 0, max: 30,
          afterBuildTicks: (s: any) => { s.ticks = ddpcrTicks.map((value) => ({ value })); },
          afterFit: (s: any) => { s.width = 74; },
          grid: {
            drawOnChartArea: false, tickLength: 7, color: "#000", lineWidth: 1.4,
            // minor ticks: the dash keeps only the part of the tick next to the axis
            tickBorderDash: (ctx: any) => (ctx.tick && ctx.tick.value % 10 !== 0 ? [4, 20] : []),
          },
          border: axisLine,
          ticks: { color: "#222", padding: 1, autoSkip: false, font: { family: SANS, size: 14 }, callback: (v: number) => (v % 10 === 0 ? String(v) : "") },
          title: { display: true, text: ["ddPCR Normalized", "mRNA Expression"], color: "#222", padding: { top: 13, bottom: 0 }, font: { family: SANS, size: 14 } },
        },
      },
    }),
  };
}

function ChartBox({ x, y, w, h, make }: any) {
  const ref = useRef<HTMLCanvasElement>(null);
  useEffect(() => {
    const chart = new Chart(ref.current!, make());
    return () => chart.destroy();
  }, []);
  return <canvas ref={ref} width={w} height={h} style={{ position: "absolute", left: x, top: y, width: w, height: h, display: "block" }} />;
}

function T({ x, y, s = 10.5, c = "#333", b, i, center, f, children }: any) {
  return (
    <span style={{
      position: "absolute", left: x, top: y, transform: center ? "translate(-50%,-50%)" : "translateY(-50%)",
      fontFamily: f || SANS, fontSize: s, color: c, fontWeight: b ? "bold" : "normal",
      fontStyle: i ? "italic" : "normal", whiteSpace: "nowrap", lineHeight: 1,
    }}>{children}</span>
  );
}

function ColorBar({ x, y, labelX, labelYs }: any) {
  return (
    <>
      <div style={{ position: "absolute", left: x, top: y, width: 7, height: 33, background: "linear-gradient(to top,#440154,#3b528b,#21908c,#5dc863,#f2e81e)" }} />
      {["3", "2", "1", "0"].map((t, i) => <T key={t} x={labelX} y={labelYs[i]} s={10}>{t}</T>)}
    </>
  );
}

export default function App() {
  useEffect(() => { document.body.style.margin = "0"; }, []);
  return (
    <div style={{ position: "absolute", left: 0, top: 0, width: 724, height: 992, background: "#fff", overflow: "hidden" }}>
      <T x={1} y={16} s={20} c="#111">A</T>
      <T x={384} y={16} s={20} c="#111">B</T>
      <T x={2} y={308} s={20} c="#111">C</T>
      <T x={422} y={308} s={20} c="#111">D</T>
      <T x={2} y={552} s={20} c="#111">E</T>
      <T x={384} y={552} s={20} c="#111">F</T>
      <T x={2} y={760} s={20} c="#111">G</T>
      <T x={223} y={8} s={19} i center c="#111">Nck1</T>
      <T x={559} y={8} s={19} i center c="#111">Nck2</T>

      <ChartBox x={0} y={15} w={362} h={280} make={() => violinConfig({
        xMin: -.4, xMax: 7.67, yMin: -.545, yMax: 3.557, right: 14, bottomH: 39, topH: 40, leftW: 106, labelPad: 1, yTitlePad: 30, xTitles: true,
        profiles: [nck1Luminal, nck1Basal, nck1Stromal, nck1Endothelial],
        dots: [nck1LuminalDots, nck1BasalDots, nck1StromalDots, nck1EndoDots],
        zeros: [zeroDense, zeroDense, zeroDense, zeroSparse],
      })} />
      <ChartBox x={362} y={15} w={362} h={280} make={() => violinConfig({
        xMin: -.288, xMax: 6.41, yMin: -.6, yMax: 3.6, right: 43, bottomH: 38, topH: 40, leftW: 77.3, labelPad: 5, yTitlePad: 1, xTitles: false,
        profiles: [nck2Luminal, nck2Basal, nck2Stromal, nck2Endothelial],
        dots: [nck2LuminalDots, nck2BasalDots, nck2StromalDots, nck2EndoDots],
        zeros: [zeroDense, zeroDense, zeroDense, zeroSparse],
      })} />
      <T x={566} y={30} s={9.3} b center c={RED} f={DEJA}>Expression: ln(1+CPM)</T>
      <T x={571} y={286} s={9.3} b center c={RED} f={DEJA}>Expression: ln(1+CPM)</T>

      <ChartBox x={0} y={290} w={400} h={250} make={dendroConfig} />
      <T x={293} y={306} b center s={10.5} c="#222">Putative cluster</T>
      <T x={293} y={318} b center s={10.5} c="#222">identity</T>
      {clusterIds.map((id, i) => <T key={i} x={id === "C14" || id === "C1" || id === "C2" || id === "C3" || id === "C4" ? 182 : 181} y={290 + labelRows[i] / 3}>{id}</T>)}
      {clusterNames.map((n, i) => <T key={i} x={205.5} y={290 + labelRows[i] / 3}>{n}</T>)}
      {identityText.map(([x, y, t]: any, i) => <T key={i} x={x / 3} y={290 + y / 3}>{t}</T>)}

      <ChartBox x={400} y={290} w={324} h={250} make={tsneConfig} />
      {tsneLegendNames.map((n, i) => (
        <React.Fragment key={n}>
          <div style={{ position: "absolute", left: 660.5, top: 306.7 + i * 17.85 - 2.3, width: 4.6, height: 4.6, borderRadius: "50%", background: tsneLegendColors[i] }} />
          <T x={675} y={306.7 + i * 17.85} s={14} c="#333">{n}</T>
        </React.Fragment>
      ))}

      <div style={{ position: "absolute", left: 54, top: 544.5, width: 276, height: 193, border: "1.4px solid #222" }} />
      <div style={{ position: "absolute", left: 430, top: 545.5, width: 275.5, height: 193, border: "1.4px solid #222" }} />
      <ChartBox x={54.7} y={545} w={276.3} h={193} make={() => embedConfig("E")} />
      <ChartBox x={430} y={546} w={276} h={192} make={() => embedConfig("F")} />
      <T x={62.5} y={561.5} s={19} i c="#111">Nck1</T>
      <T x={438.7} y={561.5} s={19} i c="#111">Nck2</T>
      <T x={262} y={599} s={10.4}>ENSMUSG</T>
      <T x={262} y={612} s={10.4}>00000032475</T>
      <T x={637.7} y={595} s={10.4}>ENSMUSG</T>
      <T x={637.7} y={608} s={10.4}>00000066877</T>
      <ColorBar x={283} y={629} labelX={292} labelYs={[629, 642, 655, 667]} />
      <ColorBar x={658} y={629} labelX={667.5} labelYs={[629, 641, 654, 667]} />
      <T x={231} y={701} s={10.7}>Myoepithelial Cells</T>
      <T x={611} y={705.5} s={10.7}>Luminal Hormone</T>
      <T x={611} y={718} s={10.7}>Sensing Cells</T>

      <ChartBox x={0} y={740} w={362} h={252} make={ddpcrConfig} />
      <T x={216} y={754} s={9.5} center c="#444">0.0571</T>
      <T x={217} y={773} s={9.5} center c="#444">ns</T>
      <T x={127.7} y={829} s={18} b center c="#111">*</T>
      <T x={309} y={845} s={18} b center c="#111">*</T>
    </div>
  );
}
